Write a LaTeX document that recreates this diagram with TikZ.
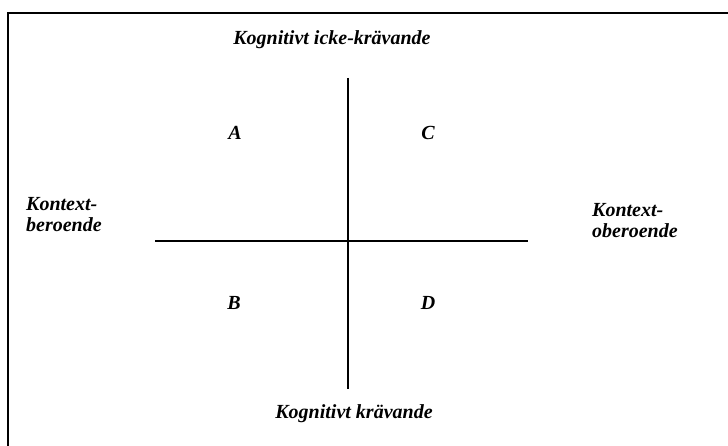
\documentclass[tikz,border=0pt]{standalone}
\usepackage{fontspec}
\setmainfont{Liberation Serif}
\begin{document}
\begin{tikzpicture}[x=1pt,y=-1pt,
  lbl/.style={font=\fontsize{20}{21}\selectfont\bfseries\itshape, inner sep=0pt, align=left},
  axis/.style={line width=2pt},
  frame/.style={line width=2pt}]
\useasboundingbox (0,0) rectangle (728,446);
% frame
\coordinate (fbl) at (8,446);
\coordinate (ftl) at (8,13);
\coordinate (ftr) at (728,13);
\draw[frame] (fbl) -- (ftl) -- (ftr);
% axes
\coordinate (vt) at (348,78);
\coordinate (vb) at (348,389);
\coordinate (hl) at (155,241);
\coordinate (hr) at (528,241);
\draw[axis] (vt) -- (vb);
\draw[axis] (hl) -- (hr);
% labels
\node[lbl] (top) at (332,40) {Kognitivt icke-krävande};
\node[lbl] (bot) at (354,414) {Kognitivt krävande};
\node[lbl, anchor=west] (left) at (26,215) {Kontext-\\beroende};
\node[lbl, anchor=west] (right) at (592,221) {Kontext-\\oberoende};
\node[lbl] (A) at (235,133) {A};
\node[lbl] (C) at (428,133) {C};
\node[lbl] (B) at (234,303) {B};
\node[lbl] (D) at (428,303) {D};
\end{tikzpicture}
\end{document}
